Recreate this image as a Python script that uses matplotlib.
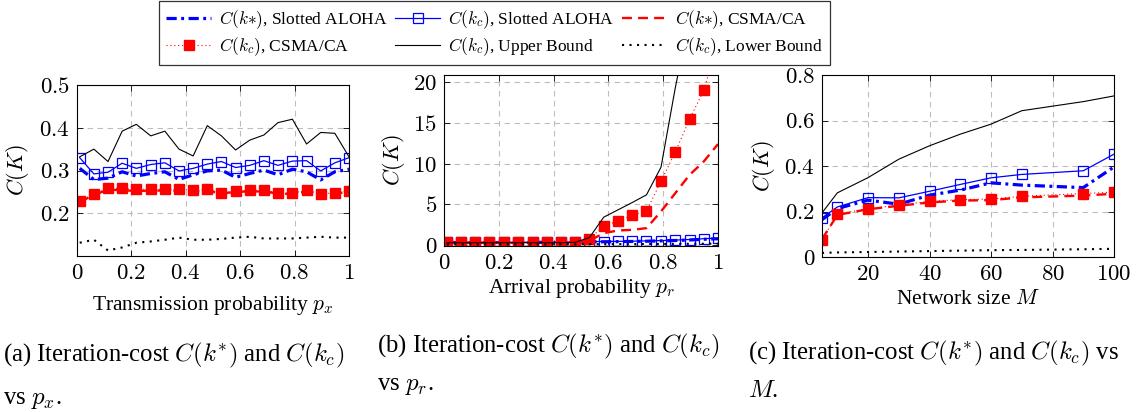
import matplotlib
matplotlib.use("Agg")
import matplotlib.pyplot as plt
from matplotlib.lines import Line2D
from matplotlib.ticker import FuncFormatter

plt.rcParams['font.family'] = ['Liberation Serif', 'DejaVu Serif']
plt.rcParams['mathtext.fontset'] = 'cm'

# ---------------- data ----------------
px = [0.01, 0.062, 0.114, 0.166, 0.218, 0.271, 0.323, 0.375, 0.427, 0.479,
      0.531, 0.583, 0.635, 0.687, 0.739, 0.792, 0.844, 0.896, 0.948, 1.0]

a_ks_aloha = [0.305, 0.279, 0.282, 0.297, 0.287, 0.293, 0.297, 0.279, 0.290, 0.299,
              0.301, 0.284, 0.293, 0.301, 0.290, 0.303, 0.297, 0.278, 0.297, 0.303]
a_kc_aloha = [0.330, 0.292, 0.296, 0.317, 0.305, 0.314, 0.318, 0.299, 0.305, 0.315,
              0.321, 0.307, 0.312, 0.323, 0.312, 0.322, 0.323, 0.299, 0.318, 0.330]
a_ks_csma = [0.226, 0.243, 0.255, 0.254, 0.252, 0.253, 0.253, 0.253, 0.251, 0.253,
             0.246, 0.250, 0.251, 0.251, 0.246, 0.245, 0.251, 0.243, 0.246, 0.250]
a_kc_csma = [0.229, 0.245, 0.258, 0.258, 0.256, 0.256, 0.256, 0.256, 0.254, 0.256,
             0.248, 0.252, 0.254, 0.254, 0.248, 0.247, 0.254, 0.245, 0.248, 0.252]
a_upper = [0.332, 0.350, 0.321, 0.392, 0.408, 0.381, 0.392, 0.350, 0.334, 0.405,
           0.381, 0.348, 0.371, 0.383, 0.412, 0.420, 0.362, 0.389, 0.387, 0.332]
a_lower = [0.131, 0.138, 0.113, 0.120, 0.131, 0.134, 0.138, 0.143, 0.138, 0.138,
           0.140, 0.143, 0.145, 0.141, 0.141, 0.141, 0.143, 0.145, 0.143, 0.143]

pr = px
b_ks_aloha = [0.28, 0.28, 0.28, 0.28, 0.28, 0.29, 0.30, 0.31, 0.32, 0.33,
              0.36, 0.37, 0.39, 0.41, 0.44, 0.48, 0.53, 0.59, 0.68, 0.74]
b_kc_aloha = [0.30, 0.30, 0.30, 0.30, 0.30, 0.30, 0.32, 0.33, 0.34, 0.35,
              0.40, 0.40, 0.42, 0.44, 0.48, 0.52, 0.58, 0.65, 0.75, 0.82]
b_ks_csma = [0.25, 0.25, 0.25, 0.25, 0.25, 0.25, 0.25, 0.25, 0.25, 0.25,
             0.50, 1.43, 1.76, 1.84, 2.05, 4.10, 6.35, 8.60, 10.25, 12.4]
b_kc_csma = [0.30, 0.30, 0.30, 0.30, 0.30, 0.30, 0.30, 0.30, 0.30, 0.30,
             0.74, 2.34, 2.90, 3.65, 4.14, 7.83, 11.4, 15.45, 19.0, 25.0]
b_upper = [0.25, 0.25, 0.25, 0.25, 0.25, 0.25, 0.25, 0.25, 0.25, 0.30,
           0.90, 3.40, 4.30, 5.20, 6.15, 9.55, 19.3, 28.0, 36.0, 45.0]
b_lower = [0.05, 0.05, 0.05, 0.05, 0.05, 0.05, 0.05, 0.06, 0.06, 0.06,
           0.07, 0.07, 0.08, 0.08, 0.09, 0.10, 0.11, 0.12, 0.13, 0.14]

M = [5, 10, 20, 30, 40, 50, 60, 70, 90, 100]
c_ks_aloha = [0.164, 0.213, 0.250, 0.232, 0.272, 0.294, 0.326, 0.316, 0.305, 0.396]
c_kc_aloha = [0.172, 0.220, 0.261, 0.260, 0.289, 0.319, 0.348, 0.363, 0.379, 0.452]
c_ks_csma = [0.078, 0.185, 0.210, 0.225, 0.240, 0.248, 0.250, 0.262, 0.270, 0.278]
c_kc_csma = [0.076, 0.188, 0.213, 0.228, 0.245, 0.252, 0.255, 0.267, 0.279, 0.285]
c_upper = [0.194, 0.282, 0.349, 0.430, 0.489, 0.540, 0.584, 0.643, 0.683, 0.708]
c_lower = [0.018, 0.020, 0.022, 0.024, 0.026, 0.028, 0.030, 0.031, 0.034, 0.036]

legend_labels = [r'$C(k{\ast})$, Slotted ALOHA', r'$C(k_c)$, Slotted ALOHA',
                 r'$C(k{\ast})$, CSMA/CA', r'$C(k_c)$, CSMA/CA',
                 r'$C(k_c)$, Upper Bound', r'$C(k_c)$, Lower Bound']

# ---------------- styles ----------------
styles = [
    dict(color='blue', lw=2.3, ls=(0, (3.2, 1.4, 0.9, 1.4))),
    dict(color='blue', lw=0.9, ls='-', marker='s', ms=6.5, mfc='none', mec='blue', mew=0.9),
    dict(color='red', lw=1.7, ls=(0, (4.2, 2.6))),
    dict(color='red', lw=0.8, ls=(0, (1, 2.5)), marker='s', ms=7, mfc='red', mec='red'),
    dict(color='black', lw=0.8, ls='-'),
    dict(color='black', lw=1.5, ls=(0, (1, 2.6))),
]

FS = 15.5
TFS = 16.5
fig = plt.figure(figsize=(11.46, 4.12), dpi=100)
W, H = 1146, 412

def add_ax(l, r, t, b):
    return fig.add_axes([l / W, 1 - b / H, (r - l) / W, (b - t) / H])

axa = add_ax(77, 349, 85, 256)
axb = add_ax(444, 718, 75, 246)
axc = add_ax(822, 1114, 75, 257)

mfmt = FuncFormatter(lambda v, p: f'${v:g}$')

def draw(ax, x, series):
    for s, st in zip(series, styles):
        ax.plot(x, s, clip_on=True, **st)

draw(axa, px, [a_ks_aloha, a_kc_aloha, a_ks_csma, a_kc_csma, a_upper, a_lower])
draw(axb, pr, [b_ks_aloha, b_kc_aloha, b_ks_csma, b_kc_csma, b_upper, b_lower])
draw(axc, M, [c_ks_aloha, c_kc_aloha, c_ks_csma, c_kc_csma, c_upper, c_lower])

axa.set_xlim(0, 1); axa.set_ylim(0.1, 0.5)
axa.set_xticks([0, 0.2, 0.4, 0.6, 0.8, 1]); axa.set_yticks([0.2, 0.3, 0.4, 0.5])
axb.set_xlim(0, 1); axb.set_ylim(-0.15, 20.9)
axb.set_xticks([0, 0.2, 0.4, 0.6, 0.8, 1]); axb.set_yticks([0, 5, 10, 15, 20])
axc.set_xlim(5, 100); axc.set_ylim(0, 0.8)
axc.set_xticks([20, 40, 60, 80, 100]); axc.set_yticks([0, 0.2, 0.4, 0.6, 0.8])

for ax in (axa, axb, axc):
    ax.grid(True, color='#bdbdbd', ls=(0, (5, 4)), lw=0.8)
    ax.set_axisbelow(True)
    ax.tick_params(direction='in', length=4, width=0.6, top=True, right=True,
                   labelsize=TFS, pad=5)
    ax.xaxis.set_major_formatter(mfmt)
    ax.yaxis.set_major_formatter(mfmt)
    for sp in ax.spines.values():
        sp.set_linewidth(0.8)
    ax.set_ylabel(r'$C(K)$', fontsize=FS + 0.5)

axa.yaxis.set_label_coords(-0.217, 0.5)
axb.yaxis.set_label_coords(-0.186, 0.5)
axc.yaxis.set_label_coords(-0.202, 0.5)

axa.set_xlabel(r'Transmission probability $p_x$', fontsize=FS)
axb.set_xlabel(r'Arrival probability $p_r$', fontsize=FS)
axc.set_xlabel(r'Network size $M$', fontsize=FS)
axa.xaxis.set_label_coords(0.5, -0.287)
axb.xaxis.set_label_coords(0.5, -0.251)
axc.xaxis.set_label_coords(0.5, -0.236)
for ax in (axa, axb, axc):
    ax.xaxis.label.set_va('center')
    ax.yaxis.label.set_va('center')

# ---------------- legend ----------------
handles = [Line2D([], [], **st) for st in styles]
order = [0, 3, 1, 4, 2, 5]
leg = fig.legend([handles[i] for i in order], [legend_labels[i] for i in order],
                 ncol=3, loc='upper left', bbox_to_anchor=(159 / W, 1 - 1 / H),
                 fontsize=12.5, frameon=True, fancybox=False, edgecolor='black',
                 handlelength=2.6, handletextpad=0.45, columnspacing=0.45,
                 borderpad=0.4, labelspacing=0.28, borderaxespad=0)
leg.get_frame().set_linewidth(0.9)
leg.set_zorder(10)

# ---------------- captions ----------------
CFS = 17.8
def cap(x, y, s):
    fig.text(x / W, 1 - y / H, s, fontsize=CFS, va='baseline', ha='left')

cap(3, 361, r'(a) Iteration-cost $C(k^{*})$ and $C(k_c)$')
cap(3, 404, r'vs $p_x$.')
cap(377, 352, r'(b) Iteration-cost $C(k^{*})$ and $C(k_c)$')
cap(377, 390, r'vs $p_r$.')
cap(748, 359, r'(c) Iteration-cost $C(k^{*})$ and $C(k_c)$ vs')
cap(748, 397, r'$M$.')

fig.savefig('out.png', dpi=100)
